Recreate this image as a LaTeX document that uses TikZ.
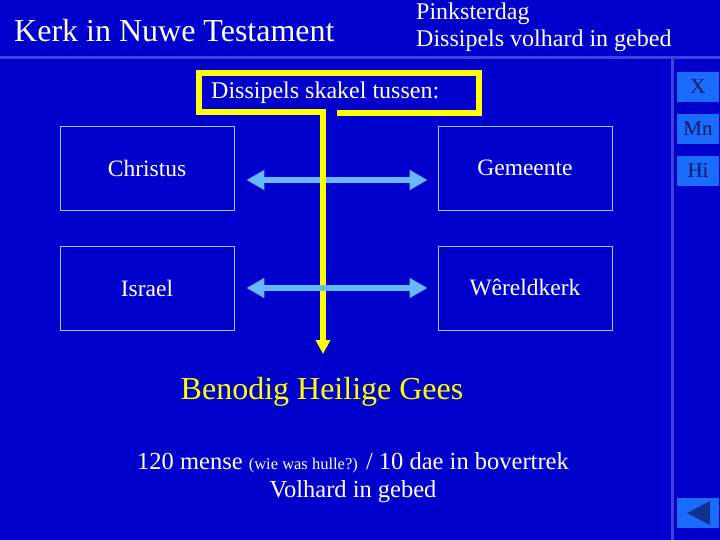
\documentclass[tikz,border=0pt]{standalone}
\usepackage{fontspec}
\setmainfont{Liberation Serif}
\usetikzlibrary{arrows.meta,calc}
\definecolor{bg}{HTML}{0000CC}
\definecolor{lineb}{HTML}{4040D8}
\definecolor{lblue}{HTML}{66B8FF}
\definecolor{btn}{HTML}{1A6CFF}
\definecolor{btxt}{HTML}{0A1A60}
\definecolor{yel}{HTML}{FFFF00}
\tikzset{
 box/.style={draw=lblue!70!white,line width=0.8pt,minimum width=174pt,minimum height=84pt,inner sep=0pt,text=white,font=\fontsize{23.5}{26}\selectfont},
 btnbox/.style={fill=btn,minimum width=42pt,minimum height=30pt,inner sep=0pt,text=btxt,font=\fontsize{21}{22}\selectfont},
 harrow/.style={lblue,line width=6pt,{Triangle[width=19pt,length=18pt]}-{Triangle[width=19pt,length=18pt]}},
 wtxt/.style={text=white,inner sep=0pt}
}
\begin{document}
\begin{tikzpicture}[x=1pt,y=-1pt]
\fill[bg] (0,0) rectangle (720,540);
\useasboundingbox (0,0) rectangle (720,540);
\draw[lineb,line width=3pt] (0,58) -- (720,58);
\draw[lineb,line width=3pt] (672,58) -- (672,540);
\node[wtxt,anchor=west,font=\fontsize{32}{34}\selectfont] (title) at (14,31) {Kerk in Nuwe Testament};
\node[wtxt,anchor=north west,align=left,font=\fontsize{24}{27}\selectfont] (sub) at (416,3) {Pinksterdag\\Dissipels volhard in gebed};
\node[wtxt,anchor=west,font=\fontsize{24}{26}\selectfont] (sk) at (211,93) {Dissipels skakel tussen:};
\node[box] (c) at (147,168) {Christus};
\node[box] (g) at (525,168) {Gemeente};
\node[box] (i) at (147,288) {Israel};
\node[box] (w) at (525,288) {Wêreldkerk};
\draw[harrow] ($(c.east)+(12,12)$) -- ($(g.west)+(-10,12)$);
\draw[yel,line width=6pt] (337,113) -- (479,113) -- (479,73) -- (199,73) -- (199,112) -- (323,112) -- (323,335);
\coordinate (tip) at (323,354);
\draw[yel,line width=6pt,-{Triangle[width=14pt,length=14pt]}] (323,330) -- (tip);
\draw[harrow] ($(i.east)+(12,0)$) -- ($(w.west)+(-10,0)$);
\node[inner sep=0pt,text=yel,font=\fontsize{32}{34}\selectfont] (hg) at (322,392) {Benodig Heilige Gees};
\node[wtxt,font=\fontsize{24.5}{26}\selectfont] (m) at (353,463) {120 mense {\fontsize{16.5}{18}\selectfont(wie was hulle?)} / 10 dae in bovertrek};
\node[wtxt,font=\fontsize{24.5}{26}\selectfont] (v) at (353,492) {Volhard in gebed};
\node[btnbox] (bx) at (698,87) {X};
\node[btnbox] (bm) at (698,129) {Mn};
\node[btnbox] (bh) at (698,171) {Hi};
\node[btnbox] (bb) at (698,513) {};
\fill[btxt!70!btn] (687,513) -- (710,501) -- (710,525) -- cycle;
\end{tikzpicture}
\end{document}
